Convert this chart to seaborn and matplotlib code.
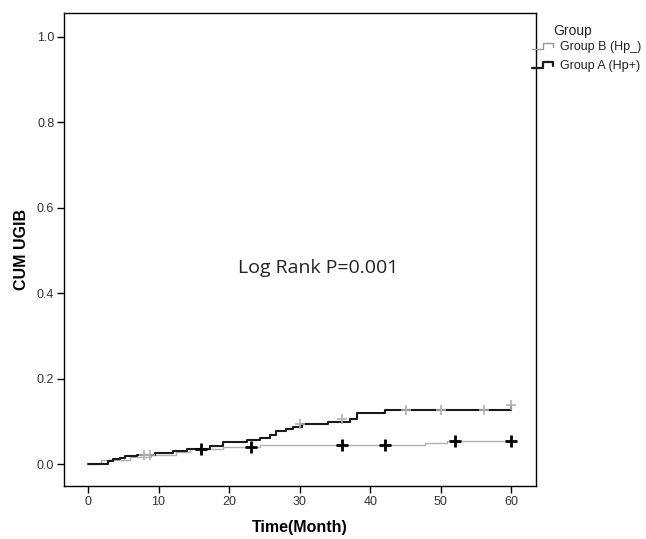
import numpy as np
import pandas as pd
import matplotlib
matplotlib.use("Agg")
import matplotlib.pyplot as plt
import seaborn as sns
from matplotlib.legend_handler import HandlerBase
from matplotlib.lines import Line2D

# ---------------- data ----------------
group_labels = ["Group B (Hp_)", "Group A (Hp+)"]

time_a = [0, 2.9, 3.6, 4.5, 5.3, 7.0, 9.5, 12.0, 14.0, 17.3, 19.2, 22.5, 24.4,
          25.8, 26.7, 28.0, 29.1, 30.3, 34.0, 37.2, 38.1, 42.1, 60.0]
cum_a = [0, 0.006, 0.011, 0.015, 0.019, 0.022, 0.026, 0.031, 0.035, 0.041, 0.052,
         0.056, 0.062, 0.069, 0.077, 0.081, 0.087, 0.094, 0.098, 0.105, 0.120,
         0.126, 0.137]
cens_time_a = [7.9, 8.8, 30.0, 36.0, 45.1, 50.1, 56.1, 60.0]
cens_cum_a = [0.022, 0.022, 0.094, 0.105, 0.126, 0.126, 0.126, 0.138]

time_b = [0, 1.9, 6.0, 9.0, 12.5, 14.5, 19.2, 24.4, 47.8, 50.9, 60.0]
cum_b = [0, 0.010, 0.016, 0.022, 0.028, 0.034, 0.040, 0.044, 0.050, 0.054, 0.054]
cens_time_b = [16.0, 23.1, 36.0, 42.1, 52.0, 60.0]
cens_cum_b = [0.034, 0.040, 0.044, 0.044, 0.054, 0.054]

x_ticks = [0, 10, 20, 30, 40, 50, 60]
y_ticks = [0.0, 0.2, 0.4, 0.6, 0.8, 1.0]
annotation = "Log Rank P=0.001"

# ---------------- styling ----------------
sns.set_theme(style="white")
plt.rcParams["font.family"] = ["Liberation Sans", "DejaVu Sans"]

color_a = "#1a1a1a"
color_b = "#b0b0b0"

df_a = pd.DataFrame({"time": time_a, "cum": cum_a, "group": group_labels[1]})
df_b = pd.DataFrame({"time": time_b, "cum": cum_b, "group": group_labels[0]})
cens_a = pd.DataFrame({"time": cens_time_a, "cum": cens_cum_a})
cens_b = pd.DataFrame({"time": cens_time_b, "cum": cens_cum_b})

fig = plt.figure(figsize=(6.46, 5.39), dpi=100)
ax = fig.add_axes([64 / 646, 53 / 539, 472 / 646, 473 / 539])

sns.lineplot(data=df_b, x="time", y="cum", color=color_b, linewidth=1.0,
             drawstyle="steps-post", estimator=None, sort=False, ax=ax)
sns.lineplot(data=df_a, x="time", y="cum", color=color_a, linewidth=1.5,
             drawstyle="steps-post", estimator=None, sort=False, ax=ax)

sns.scatterplot(data=cens_a, x="time", y="cum", marker="+", s=50,
                color="#b0b0b0", linewidth=1.2, ax=ax, zorder=4)
sns.scatterplot(data=cens_b, x="time", y="cum", marker="+", s=70,
                color="black", linewidth=2.0, ax=ax, zorder=4)

ax.set_xlim(-3.4, 63.5)
ax.set_ylim(-0.0515, 1.056)
ax.set_xticks(x_ticks)
ax.set_yticks(y_ticks)
ax.set_xticklabels([str(t) for t in x_ticks])
ax.set_yticklabels([f"{t:.1f}" for t in y_ticks])
ax.tick_params(bottom=True, left=True, direction="out", length=5, width=1.0,
               color="black", labelsize=9, labelcolor="#333333", pad=2)
for sp in ax.spines.values():
    sp.set_visible(True)
    sp.set_color("black")
    sp.set_linewidth(1.0)

ax.set_xlabel("Time(Month)", fontsize=11.5, fontweight="bold", color="black",
              labelpad=9)
ax.set_ylabel("CUM UGIB", fontsize=11.5, fontweight="bold", color="black",
              labelpad=6)

ax.text(32.6, 0.459, annotation, fontsize=14, color="#222222",
        family=["Open Sans", "DejaVu Sans"], ha="center", va="center")


# ---------------- legend with step-shaped icons ----------------
class StepHandler(HandlerBase):
    def create_artists(self, legend, orig_handle, xdescent, ydescent, width,
                       height, fontsize, trans):
        xs = np.array([0, 0.45, 0.45, 0.85, 0.85]) * width - xdescent
        ys = np.array([0.1, 0.1, 0.75, 0.75, 0.35]) * height - ydescent
        ln = Line2D(xs, ys, color=orig_handle.get_color(),
                    linewidth=orig_handle.get_linewidth(), transform=trans)
        return [ln]


handles = [Line2D([], [], color="#999999", linewidth=1.0),
           Line2D([], [], color=color_a, linewidth=1.6)]
fig.text(553 / 646, 1 - 31 / 539, "Group", fontsize=10, color="#222222",
         va="center", ha="left")
leg = fig.legend(handles, group_labels, loc="upper left",
                 bbox_to_anchor=(532 / 646, 1 - 41 / 539), frameon=False,
                 fontsize=9, handlelength=2.0, handletextpad=0.25,
                 borderpad=0, borderaxespad=0, labelspacing=0.55,
                 handler_map={Line2D: StepHandler()})
for t in leg.get_texts():
    t.set_color("#222222")

fig.savefig("out.png", dpi=100)
